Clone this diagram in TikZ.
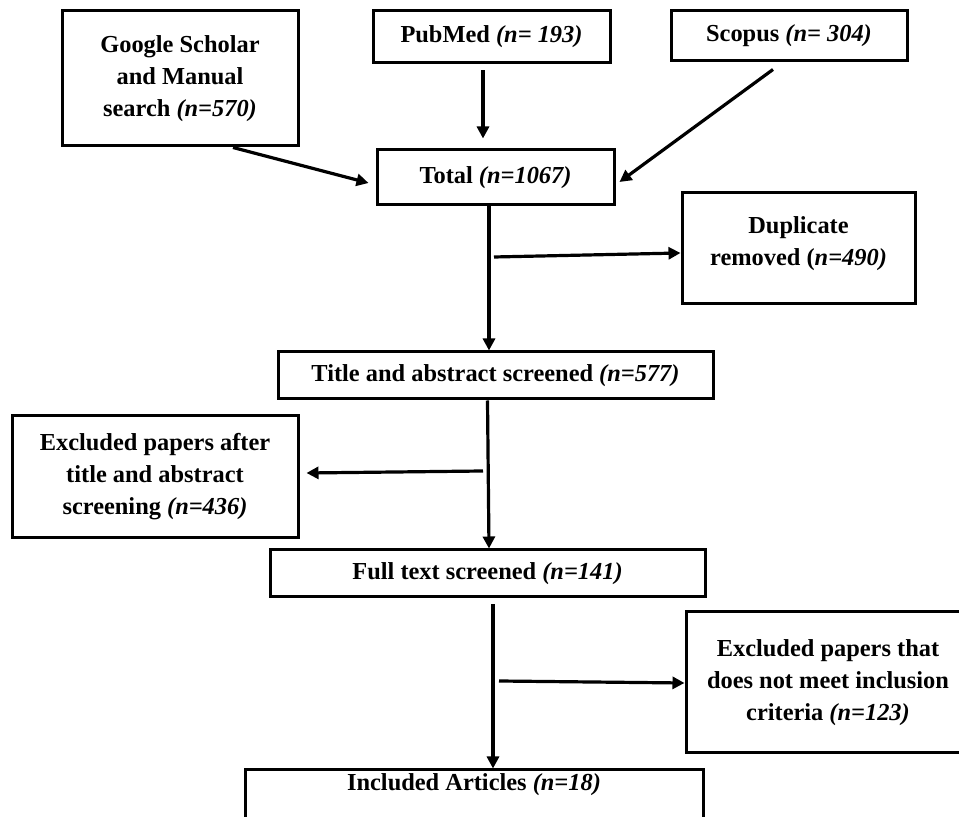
\documentclass[tikz,border=0pt]{standalone}
\usepackage{fontspec}
\setmainfont{Liberation Serif}
\usetikzlibrary{arrows.meta}

\tikzset{
    box/.style={draw, line width=1.5pt, align=center, inner sep=0pt,
        font=\fontsize{12.2}{16}\selectfont\bfseries},
    arr/.style={-{Triangle[length=6pt, width=6pt]}, line width=1.6pt}
}

\begin{document}
\begin{tikzpicture}[x=0.5pt, y=-0.5pt]
    \clip (0,0) rectangle (959,817);

    \node [box, minimum width=118pt, minimum height=67.5pt] (google) at (180,78.5)
        {Google Scholar\\and Manual\\search \textit{(n=570)}};
    \node [box, minimum width=118.5pt, minimum height=26pt] (pubmed) at (491.5,37)
        {PubMed \textit{(n= 193)}};
    \node [box, minimum width=118pt, minimum height=25pt] (scopus) at (789,36)
        {Scopus \textit{(n= 304)}};
    \node [box, minimum width=118.5pt, minimum height=27.5pt] (total) at (495.5,177.5)
        {Total \textit{(n=1067)}};
    \node [box, minimum width=116.5pt, minimum height=55.5pt, text depth=7pt] (dup) at (798.5,248.5)
        {Duplicate\\removed (\textit{n=490)}};
    \node [box, minimum width=217.5pt, minimum height=23.5pt] (title) at (495.5,375.5)
        {Title and abstract screened \textit{(n=577)}};
    \node [box, minimum width=143pt, minimum height=61pt] (excl1) at (155,477)
        {Excluded papers after\\title and abstract\\screening \textit{(n=436)}};
    \node [box, minimum width=217.5pt, minimum height=23.5pt] (full) at (487.5,573.5)
        {Full text screened \textit{(n=141)}};
    \node [box, minimum width=142pt, minimum height=70.5pt] (excl2) at (828,682.5)
        {Excluded papers that\\does not meet inclusion\\criteria \textit{(n=123)}};
    \node [box, minimum width=229pt, minimum height=25pt, text depth=13pt] (incl) at (474,795)
        {Included Articles \textit{(n=18)}};

    \draw [arr] ([shift={(53,0)}]google.south) -- ([shift={(-7,5.5)}]total.west);
    \draw [arr] ([shift={(-8.5,6)}]pubmed.south) -- ([shift={(-12.5,-10)}]total.north);
    \draw [arr] ([shift={(-16,7)}]scopus.south) -- ([shift={(4,4.5)}]total.east);

    \draw [arr] ([shift={(-6.5,0)}]total.south) -- ([shift={(-6.5,0)}]title.north);
    \draw [arr] (494,257) -- ([shift={(0,4.5)}]dup.west);

    \draw [arr] ([shift={(-8,0)}]title.south) -- ([shift={(1.5,0)}]full.north);
    \draw [arr] (483,471) -- ([shift={(7,-4)}]excl1.east);

    \draw [arr] ([shift={(5.5,6)}]full.south) -- ([shift={(19,0)}]incl.north);
    \draw [arr] (499,681) -- ([shift={(0,0.5)}]excl2.west);
\end{tikzpicture}
\end{document}
